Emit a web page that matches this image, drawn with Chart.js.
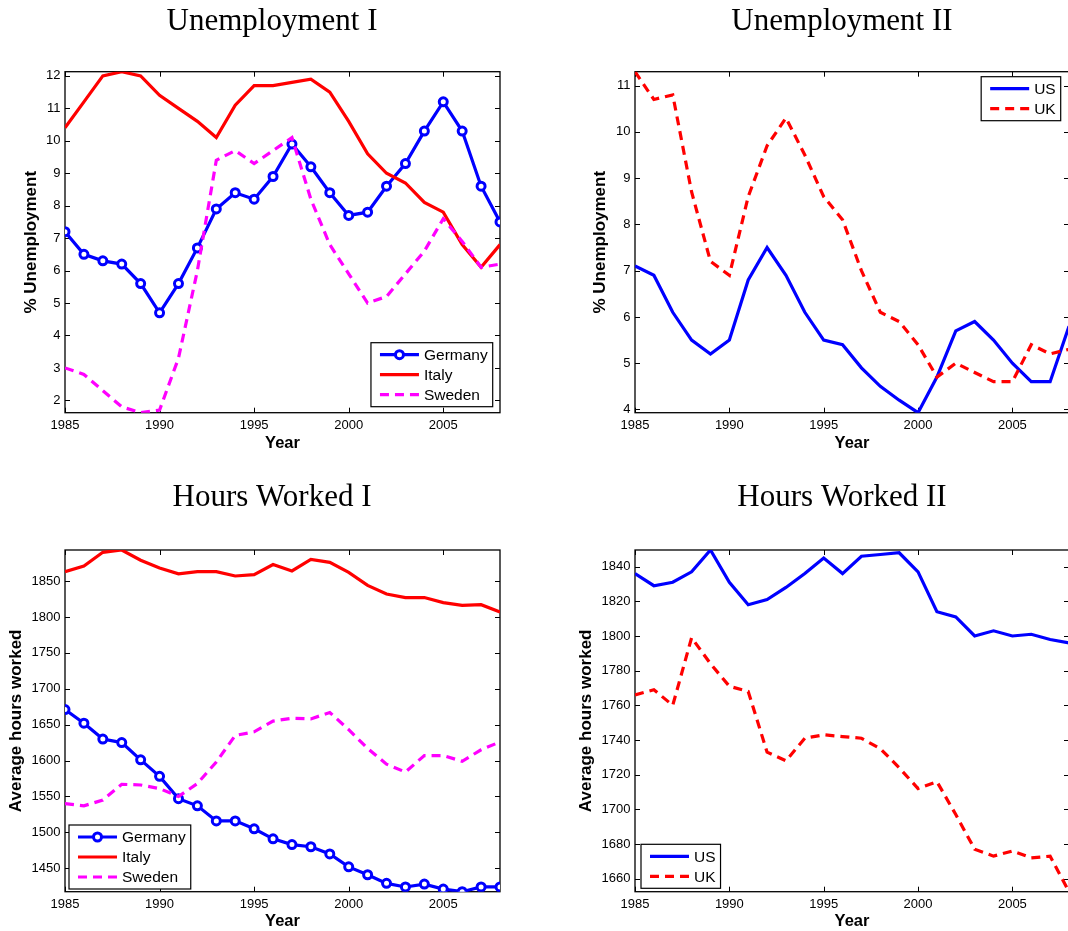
<!DOCTYPE html>
<html lang="en">
<head>
<meta charset="UTF-8">
<title>Unemployment and Hours Worked</title>
<script src="https://cdn.jsdelivr.net/npm/chart.js"></script>
<style>
    body { margin: 0; width: 1068px; height: 931px; overflow: hidden; background: white; position: relative; }
    canvas { position: absolute; }
</style>
</head>
<body>
<canvas id="unempOne" width="544" height="465" style="left:0;top:0"></canvas>
<canvas id="unempTwo" width="544" height="465" style="left:570px;top:0"></canvas>
<canvas id="hoursOne" width="544" height="470" style="left:0;top:475px"></canvas>
<canvas id="hoursTwo" width="544" height="470" style="left:570px;top:475px"></canvas>
<script>
const years = [1985, 1986, 1987, 1988, 1989, 1990, 1991, 1992, 1993, 1994, 1995, 1996,
               1997, 1998, 1999, 2000, 2001, 2002, 2003, 2004, 2005, 2006, 2007, 2008];

// unemployment, percent
const germanyUnemp = [7.2, 6.5, 6.3, 6.2, 5.6, 4.7, 5.6, 6.7, 7.9, 8.4, 8.2, 8.9,
                      9.9, 9.2, 8.4, 7.7, 7.8, 8.6, 9.3, 10.3, 11.2, 10.3, 8.6, 7.5];
const italyUnemp = [10.4, 11.2, 12.0, 12.13, 12.0, 11.4, 11.0, 10.6, 10.1, 11.1, 11.7, 11.7,
                    11.8, 11.9, 11.5, 10.6, 9.6, 9.0, 8.7, 8.1, 7.8, 6.8, 6.1, 6.8];
const swedenUnemp = [3.0, 2.8, 2.3, 1.8, 1.62, 1.7, 3.3, 6.0, 9.4, 9.7, 9.3, 9.7,
                     10.1, 8.2, 6.8, 5.9, 5.0, 5.2, 5.9, 6.6, 7.6, 6.9, 6.1, 6.2];
const usUnemp = [7.1, 6.9, 6.1, 5.5, 5.2, 5.5, 6.8, 7.5, 6.9, 6.1, 5.5, 5.4,
                 4.9, 4.5, 4.2, 3.93, 4.7, 5.7, 5.9, 5.5, 5.0, 4.6, 4.6, 5.8];
const ukUnemp = [11.3, 10.7, 10.8, 8.7, 7.2, 6.9, 8.6, 9.7, 10.3, 9.5, 8.6, 8.1,
                 7.0, 6.1, 5.9, 5.4, 4.7, 5.0, 4.8, 4.6, 4.6, 5.4, 5.2, 5.3];

// average hours worked per year
const germanyHours = [1671, 1652, 1630, 1625, 1601, 1578, 1547, 1537, 1516, 1516, 1505, 1491,
                      1483, 1480, 1470, 1452, 1441, 1429, 1424, 1428, 1421, 1417.4, 1424, 1424];
const italyHours = [1863, 1871, 1890, 1893.2, 1879, 1868, 1860, 1863, 1863, 1857, 1859, 1873,
                    1864, 1880, 1876, 1862, 1844, 1832, 1827, 1827, 1820, 1816, 1817, 1807];
const swedenHours = [1540, 1537, 1545, 1567, 1566, 1561, 1550, 1568, 1598, 1635, 1640, 1655,
                     1659, 1658, 1667, 1643, 1617, 1595, 1584, 1607, 1607, 1599, 1615, 1626];
const usHours = [1836, 1829, 1831, 1837, 1849.6, 1831, 1818, 1821, 1828, 1836, 1845, 1836,
                 1846, 1847, 1848, 1837, 1814, 1811, 1800, 1803, 1800, 1801, 1798, 1796];
const ukHours = [1766, 1769, 1760, 1799, 1784, 1771, 1768, 1733, 1728, 1741, 1743, 1742,
                 1741, 1735, 1724, 1712, 1716, 1697, 1677, 1673, 1676, 1672, 1673, 1652.5];

const xTicks = [1985, 1990, 1995, 2000, 2005];

const BLUE = '#0000ff', RED = '#ff0000', MAGENTA = '#ff00ff';
const DASH = [9, 6];
const SANS = '"Liberation Sans", Arial, sans-serif';

Chart.defaults.font.family = SANS;
Chart.defaults.color = '#000';

// MATLAB style box with ticks pointing inwards on all four sides
const boxTicks = {
    id: 'boxTicks',
    beforeDatasetsDraw(chart) {
        const { ctx, chartArea: a, scales: { x, y } } = chart;
        const len = 5;
        ctx.save();
        ctx.strokeStyle = '#000';
        ctx.lineWidth = 1;
        ctx.beginPath();
        x.ticks.forEach(t => {
            const px = Math.round(x.getPixelForValue(t.value)) + 0.5;
            ctx.moveTo(px, a.bottom); ctx.lineTo(px, a.bottom - len);
            ctx.moveTo(px, a.top); ctx.lineTo(px, a.top + len);
        });
        y.ticks.forEach(t => {
            const py = Math.round(y.getPixelForValue(t.value)) + 0.5;
            ctx.moveTo(a.left, py); ctx.lineTo(a.left + len, py);
            ctx.moveTo(a.right, py); ctx.lineTo(a.right - len, py);
        });
        ctx.stroke();
        ctx.lineWidth = 1.3;
        ctx.strokeRect(a.left, a.top, a.right - a.left, a.bottom - a.top);
        ctx.restore();
    }
};

// the figure titles sit a bit left of the axes centre; move the title box there
const titleCenter = {
    id: 'titleCenter',
    afterLayout(chart, args, opts) {
        const t = chart.titleBlock;
        if (!t || opts.x == null) return;
        const half = (t.right - t.left) / 2;
        t.left = opts.x - half;
        t.right = opts.x + half;
    }
};

// legend box drawn inside the axes, like MATLAB
const boxLegend = {
    id: 'boxLegend',
    afterDraw(chart, args, opts) {
        const { ctx, chartArea: a } = chart;
        const sets = chart.data.datasets;
        ctx.save();
        ctx.font = '15.5px ' + SANS;
        const textW = Math.max(...sets.map(d => ctx.measureText(d.label).width));
        const w = 9 + 39 + 5 + textW + 5;
        const h = 24 + (sets.length - 1) * 20;
        const left = opts.corner.includes('e') ? a.right - opts.dx - w : a.left + opts.dx;
        const top = opts.corner.includes('s') ? a.bottom - opts.dy - h : a.top + opts.dy;
        ctx.fillStyle = '#fff';
        ctx.fillRect(left, top, w, h);
        ctx.strokeStyle = '#000';
        ctx.lineWidth = 1.2;
        ctx.strokeRect(left, top, w, h);
        sets.forEach((d, i) => {
            const cy = top + 12 + i * 20;
            ctx.strokeStyle = d.borderColor;
            ctx.lineWidth = d.borderWidth;
            ctx.setLineDash(d.borderDash || []);
            ctx.beginPath();
            ctx.moveTo(left + 9, cy);
            ctx.lineTo(left + 48, cy);
            ctx.stroke();
            ctx.setLineDash([]);
            if (d.pointRadius > 0) {
                ctx.fillStyle = '#fff';
                ctx.lineWidth = d.pointBorderWidth;
                ctx.beginPath();
                ctx.arc(left + 28.5, cy, d.pointRadius, 0, Math.PI * 2);
                ctx.fill();
                ctx.stroke();
            }
            ctx.fillStyle = '#000';
            ctx.textBaseline = 'middle';
            ctx.fillText(d.label, left + 53, cy + 1);
        });
        ctx.restore();
    }
};

function series(label, values, color, dashed, markers, order) {
    return {
        label: label,
        data: years.map((yr, i) => ({ x: yr, y: values[i] })),
        borderColor: color,
        backgroundColor: color,
        borderWidth: 3.2,
        borderDash: dashed ? DASH : [],
        pointRadius: markers ? 4 : 0,
        pointBorderWidth: 3,
        pointBackgroundColor: '#fff',
        pointBorderColor: color,
        tension: 0,
        order: order
    };
}

function makeChart(id, cfg) {
    const all = cfg.datasets.flatMap(d => d.data.map(p => p.y));
    new Chart(document.getElementById(id), {
        type: 'line',
        data: { datasets: cfg.datasets },
        options: {
            responsive: false,
            animation: false,
            layout: { padding: { left: 0, right: cfg.padRight, top: 0, bottom: 0 } },
            plugins: {
                legend: { display: false },
                tooltip: { enabled: false },
                title: {
                    display: true,
                    text: cfg.title,
                    color: '#000',
                    font: { family: '"Liberation Serif", "Times New Roman", serif', size: 31, weight: 'normal' },
                    padding: { top: cfg.titleTop, bottom: cfg.titleBottom }
                },
                titleCenter: { x: 272 },
                boxLegend: cfg.legend
            },
            scales: {
                x: {
                    type: 'linear',
                    min: years[0],
                    max: years[years.length - 1],
                    afterBuildTicks: s => { s.ticks = xTicks.map(v => ({ value: v })); },
                    afterFit: s => { s.height = cfg.xHeight; },
                    grid: { display: false, drawTicks: false },
                    border: { display: false },
                    ticks: { padding: 5, font: { size: 13 }, callback: v => String(v) },
                    title: {
                        display: true, text: 'Year',
                        font: { size: 16.5, weight: 'bold' },
                        padding: { top: 0, bottom: cfg.xTitleBottom }
                    }
                },
                y: {
                    type: 'linear',
                    min: Math.min(...all),
                    max: Math.max(...all),
                    afterBuildTicks: s => { s.ticks = cfg.yTicks.map(v => ({ value: v })); },
                    afterFit: s => { s.width = 65; },
                    grid: { display: false, drawTicks: false },
                    border: { display: false },
                    ticks: { padding: 4.5, font: { size: 13 }, callback: v => String(v) },
                    title: {
                        display: true, text: cfg.yTitle,
                        font: { size: 17, weight: 'bold' },
                        padding: { top: cfg.yTitlePad, bottom: 0 }
                    }
                }
            }
        },
        plugins: [boxTicks, titleCenter, boxLegend]
    });
}

const unempTicksOne = [2, 3, 4, 5, 6, 7, 8, 9, 10, 11, 12];
const unempTicksTwo = [4, 5, 6, 7, 8, 9, 10, 11];
const hoursTicksOne = [1450, 1500, 1550, 1600, 1650, 1700, 1750, 1800, 1850];
const hoursTicksTwo = [1660, 1680, 1700, 1720, 1740, 1760, 1780, 1800, 1820, 1840];

makeChart('unempOne', {
    title: 'Unemployment I', yTitle: '% Unemployment', yTicks: unempTicksOne,
    titleTop: 3, titleBottom: 31.5, xHeight: 52.3, xTitleBottom: 11.8, yTitlePad: 21.5, padRight: 44,
    legend: { corner: 'se', dx: 7.3, dy: 6 },
    datasets: [
        series('Germany', germanyUnemp, BLUE, false, true, 2),
        series('Italy', italyUnemp, RED, false, false, 1),
        series('Sweden', swedenUnemp, MAGENTA, true, false, 0)
    ]
});

makeChart('unempTwo', {
    title: 'Unemployment II', yTitle: '% Unemployment', yTicks: unempTicksTwo,
    titleTop: 3, titleBottom: 31.5, xHeight: 52.3, xTitleBottom: 11.8, yTitlePad: 20.5, padRight: 45,
    legend: { corner: 'ne', dx: 8.3, dy: 5 },
    datasets: [
        series('US', usUnemp, BLUE, false, false, 1),
        series('UK', ukUnemp, RED, true, false, 0)
    ]
});

makeChart('hoursOne', {
    title: 'Hours Worked I', yTitle: 'Average hours worked', yTicks: hoursTicksOne,
    titleTop: 4.4, titleBottom: 33.4, xHeight: 53.3, xTitleBottom: 13.4, yTitlePad: 6.5, padRight: 44,
    legend: { corner: 'sw', dx: 4, dy: 2.7 },
    datasets: [
        series('Germany', germanyHours, BLUE, false, true, 2),
        series('Italy', italyHours, RED, false, false, 1),
        series('Sweden', swedenHours, MAGENTA, true, false, 0)
    ]
});

makeChart('hoursTwo', {
    title: 'Hours Worked II', yTitle: 'Average hours worked', yTicks: hoursTicksTwo,
    titleTop: 4.4, titleBottom: 33.4, xHeight: 53.3, xTitleBottom: 13.4, yTitlePad: 6.5, padRight: 45,
    legend: { corner: 'sw', dx: 6, dy: 3.4 },
    datasets: [
        series('US', usHours, BLUE, false, false, 1),
        series('UK', ukHours, RED, true, false, 0)
    ]
});
</script>
</body>
</html>
